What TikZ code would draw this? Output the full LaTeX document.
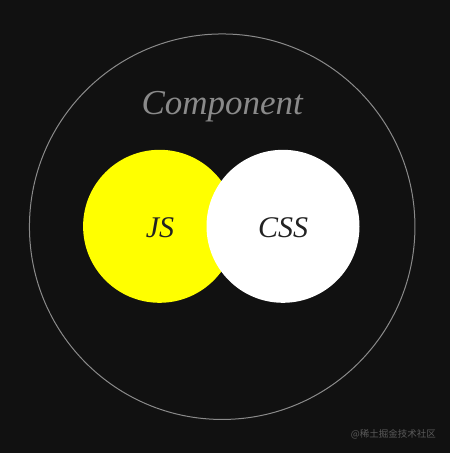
\documentclass[tikz,border=0pt]{standalone}
\usepackage{fontspec}
\setmainfont{Liberation Serif}
\newfontfamily\cjk{Noto Sans CJK SC}
\definecolor{bg}{HTML}{111111}
\definecolor{ring}{HTML}{8A8A8A}
\definecolor{ink}{HTML}{222222}
\definecolor{wm}{HTML}{5A5A5A}
\definecolor{jsyellow}{HTML}{FFFF00}
\begin{document}
\begin{tikzpicture}[x=1pt,y=-1pt,
  lbl/.style={font=\itshape\fontsize{30}{31}\selectfont, text=ink, inner sep=0pt},
  disc/.style={circle, minimum size=153pt, inner sep=0pt, draw=none}]
\fill[bg] (0,0) rectangle (450,453);
\useasboundingbox (0,0) rectangle (450,453);
\node[circle, draw=ring, line width=1pt, minimum size=385.5pt, inner sep=0pt] (comp) at (222.2,226.7) {};
\node[font=\itshape\fontsize{35}{36}\selectfont, text=ring, inner sep=0pt, anchor=base] (title) at (222.2,114) {Component};
\node[disc, fill=jsyellow] (js) at (159.6,226.3) {};
\node[disc, fill=white] (css) at (283,226.3) {};
\node[lbl, anchor=base] (jst) at (160,237.3) {JS};
\node[lbl, anchor=base] (csst) at (283.2,237.3) {CSS};
\node[font=\cjk\fontsize{9.5}{10}\selectfont, text=wm, inner sep=0pt, anchor=east] (mark) at (436,434.3) {@稀土掘金技术社区};
\end{tikzpicture}
\end{document}
